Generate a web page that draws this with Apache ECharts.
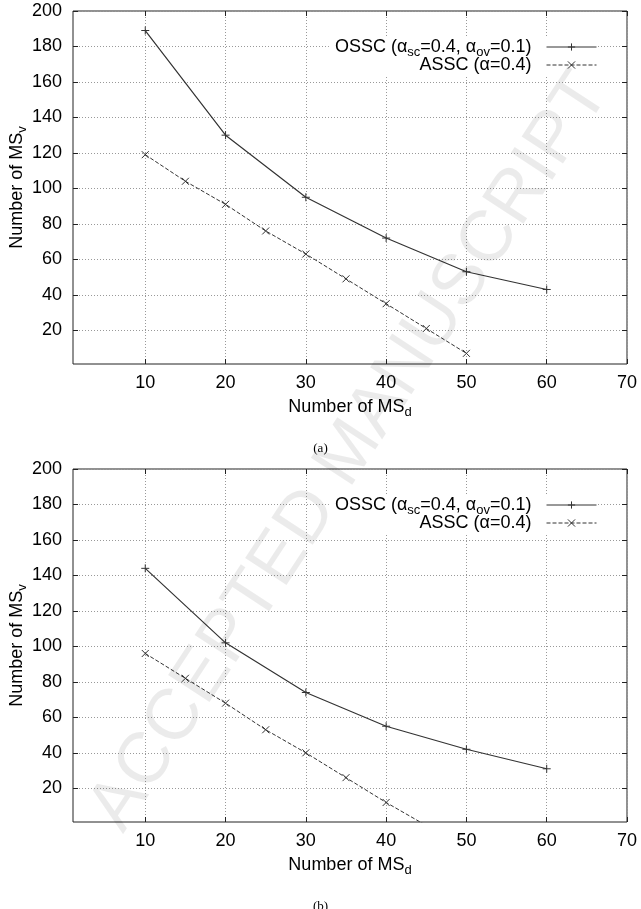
<!DOCTYPE html>
<html>
<head>
<meta charset="utf-8">
<script src="https://cdn.jsdelivr.net/npm/echarts@6.0.0/dist/echarts.min.js"></script>
<style>
  html, body { margin: 0; padding: 0; background: #fff; }
  #chart-container { width: 641px; height: 909px; }
</style>
</head>
<body>
<div id="chart-container"></div>
<script>
// values
var xTicks = [10, 20, 30, 40, 50, 60, 70];
var yTicks = [20, 40, 60, 80, 100, 120, 140, 160, 180, 200];
var osscX = [10, 20, 30, 40, 50, 60];
var asscXA = [10, 15, 20, 25, 30, 35, 40, 45, 50];
var asscXB = [10, 15, 20, 25, 30, 35, 40, 45];
var osscA = [189, 130, 95, 72, 53, 43];
var asscA = [119, 104, 91, 76, 63, 49, 35, 21, 7];
var osscB = [144, 102, 74, 55, 42, 31];
var asscB = [96, 82, 68, 53, 40, 26, 12, -1];
var captions = ['(a)', '(b)'];
var osscName = 'OSSC (αsc=0.4, αov=0.1)';
var asscName = 'ASSC (α=0.4)';

var FONT = 'Liberation Sans';
var INK = '#333';
var plusPath = 'path://M0,5L10,5M5,0L5,10';
var crossPath = 'path://M0,0L10,10M10,0L0,10';
var panelTop = [11, 469];

var dom = document.getElementById('chart-container');
var myChart = echarts.init(dom, null, { renderer: 'canvas' });

function pairs(xs, ys) {
  return xs.map(function (x, i) { return [x, ys[i]]; });
}

var rich = {
  n: { fontFamily: FONT, fontSize: 18, color: '#000', lineHeight: 24 },
  s: { fontFamily: FONT, fontSize: 13, color: '#000', verticalAlign: 'bottom' },
  g: { width: 10 }
};

function legendLabel(name) {
  if (name === osscName) {
    return '{n|OSSC (α}{s|sc}{n|=0.4, α}{s|ov}{n|=0.1)}{g|}';
  }
  return '{n|' + name + '}{g|}';
}

var grids = [], xAxes = [], yAxes = [], series = [], legends = [], titles = [];

[0, 1].forEach(function (gi) {
  grids.push({
    left: 73, right: 14, top: panelTop[gi], height: 353,
    outerBoundsMode: 'none', containLabel: false,
    show: true, borderColor: '#222', borderWidth: 1, backgroundColor: 'transparent'
  });
  var tickStyle = { color: '#222', width: 1 };
  xAxes.push({
    gridIndex: gi, type: 'value', min: 1, max: 70, splitNumber: 7, position: 'bottom',
    name: '{n|Number of MS}{s|d}', nameLocation: 'middle', nameGap: 31, nameMoveOverlap: false,
    nameTextStyle: { rich: rich },
    axisLine: { show: false },
    axisTick: { inside: true, length: 5, customValues: xTicks, lineStyle: tickStyle },
    axisLabel: { customValues: xTicks, margin: 10, fontFamily: FONT, fontSize: 18, color: '#000' },
    splitLine: { show: true, lineStyle: { color: '#999', width: 1, type: [1, 2] } }
  });
  xAxes.push({
    gridIndex: gi, type: 'value', min: 1, max: 70, splitNumber: 7, position: 'top',
    axisLine: { show: false },
    axisTick: { inside: true, length: 5, customValues: xTicks, lineStyle: tickStyle },
    axisLabel: { show: false },
    splitLine: { show: false }
  });
  yAxes.push({
    gridIndex: gi, type: 'value', min: 1, max: 200, splitNumber: 10, position: 'left',
    name: '{n|Number of MS}{s|v}', nameLocation: 'middle', nameGap: 44, nameMoveOverlap: false,
    nameTextStyle: { rich: rich },
    axisLine: { show: false },
    axisTick: { inside: true, length: 5, customValues: yTicks, lineStyle: tickStyle },
    axisLabel: { customValues: yTicks, margin: 11, fontFamily: FONT, fontSize: 18, color: '#000' },
    splitLine: { show: true, lineStyle: { color: '#999', width: 1, type: [1, 2] } }
  });
  yAxes.push({
    gridIndex: gi, type: 'value', min: 1, max: 200, splitNumber: 10, position: 'right',
    axisLine: { show: false },
    axisTick: { inside: true, length: 5, customValues: yTicks, lineStyle: tickStyle },
    axisLabel: { show: false },
    splitLine: { show: false }
  });

  var ossc = gi === 0 ? osscA : osscB;
  var assc = gi === 0 ? asscA : asscB;
  var asscX = gi === 0 ? asscXA : asscXB;
  series.push({
    name: osscName, type: 'line', xAxisIndex: gi * 2, yAxisIndex: gi * 2,
    data: pairs(osscX, ossc), clip: true,
    symbol: plusPath, symbolSize: 8, color: INK,
    lineStyle: { color: INK, width: 1.2 },
    itemStyle: { color: INK, borderColor: INK, borderWidth: 1 }
  });
  series.push({
    name: asscName, type: 'line', xAxisIndex: gi * 2, yAxisIndex: gi * 2,
    data: pairs(asscX, assc), clip: true,
    symbol: crossPath, symbolSize: 7, color: INK,
    lineStyle: { color: INK, width: 1, type: [4, 2] },
    itemStyle: { color: INK, borderColor: INK, borderWidth: 1 }
  });

  legends.push({
    orient: 'vertical', align: 'right', right: 44, top: panelTop[gi] + 25,
    itemWidth: 50, itemHeight: 9, itemGap: -3,
    padding: [2, 0, 2, 6], backgroundColor: '#fff',
    selectedMode: false,
    data: [osscName, asscName],
    formatter: legendLabel,
    textStyle: { fontFamily: FONT, fontSize: 18, color: '#000', rich: rich },
    itemStyle: { borderWidth: 1 },
    lineStyle: { width: 1 }
  });

  titles.push({
    text: captions[gi], left: 'center', top: panelTop[gi] + 426,
    textStyle: { fontFamily: 'Liberation Serif', fontSize: 13, fontWeight: 'normal', color: '#000' }
  });
});

var option = {
  animation: false,
  backgroundColor: '#fff',
  title: titles,
  grid: grids,
  xAxis: xAxes,
  yAxis: yAxes,
  legend: legends,
  series: series,
  graphic: [{
    type: 'text', z: 100, silent: true,
    x: 350, y: 452, rotation: 0.99,
    style: {
      text: 'ACCEPTED MANUSCRIPT',
      font: '72px "Liberation Sans"',
      fill: 'rgba(0,0,0,0.08)',
      textAlign: 'center', textVerticalAlign: 'middle'
    }
  }]
};

myChart.setOption(option);
window.addEventListener('resize', myChart.resize);
</script>
</body>
</html>
